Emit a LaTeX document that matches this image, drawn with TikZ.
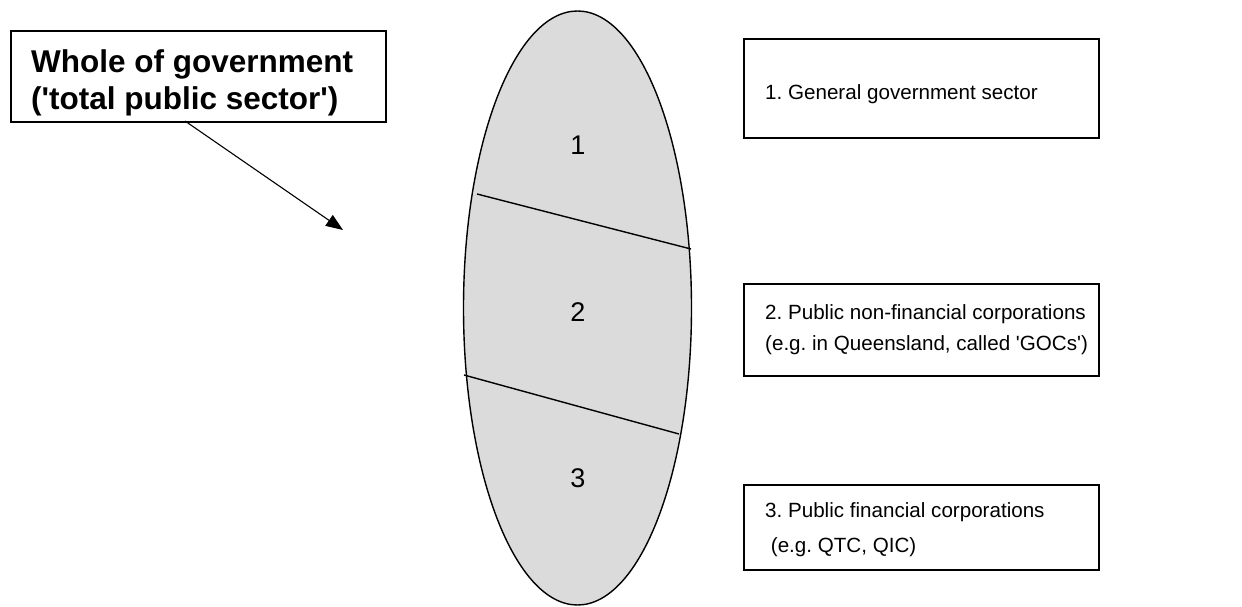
\documentclass[tikz,border=0pt]{standalone}
\usepackage{fontspec}
\setmainfont{Liberation Sans}[Ligatures=TeXOff]
\usetikzlibrary{arrows.meta,shapes.geometric}
\frenchspacing
\begin{document}
\begin{tikzpicture}[x=1pt,y=-1pt,
  framebox/.style={draw=black, line width=1.6pt, fill=white, inner sep=0pt, anchor=north west},
  bigtext/.style={font=\fontsize{31.5}{37}\selectfont\bfseries\frenchspacing, anchor=base west, inner sep=0pt},
  smalltext/.style={font=\fontsize{20.6}{25}\selectfont\frenchspacing, anchor=base west, inner sep=0pt},
  digit/.style={font=\fontsize{27}{31}\selectfont, inner sep=0pt},
  divider/.style={line width=1.4pt},
  pointer/.style={line width=1.1pt, -{Triangle[length=17pt,width=13pt]}}]
\useasboundingbox (0,0) rectangle (1242,607);
% whole of government box
\node[framebox, minimum width=375pt, minimum height=91pt] (wog) at (10,30) {};
\node[bigtext] (wog1) at (31,73) {Whole of government};
\node[bigtext] (wog2) at (31,110) {('total public sector')};
% ellipse
\node[ellipse, draw=black, line width=1.4pt, fill=black!14, inner sep=0pt,
      minimum width=228pt, minimum height=594pt] (ell) at (577.5,308) {};
\draw[divider] (477,194) -- (691,249);
\draw[divider] (464,375) -- (679,434);
\node[digit] (d1) at (578,145) {1};
\node[digit] (d2) at (578,312) {2};
\node[digit] (d3) at (578,478) {3};
% arrow
\coordinate (arrstart) at (185,121);
\coordinate (arrtip) at (343,230);
\draw[pointer] (arrstart) -- (arrtip);
% right boxes
\node[framebox, minimum width=355pt, minimum height=99pt] (b1) at (743,38) {};
\node[smalltext] (b1t) at (765,100) {1. General government sector};
\node[framebox, minimum width=355pt, minimum height=92pt] (b2) at (743,283) {};
\node[smalltext] (b2t1) at (765,319) {2. Public non-financial corporations};
\node[smalltext] (b2t2) at (765,350) {(e.g. in Queensland, called 'GOCs')};
\node[framebox, minimum width=355pt, minimum height=85pt] (b3) at (743,484) {};
\node[smalltext] (b3t1) at (765,517) {3. Public financial corporations};
\node[smalltext] (b3t2) at (765,552) {\ (e.g. QTC, QIC)};
\end{tikzpicture}
\end{document}
